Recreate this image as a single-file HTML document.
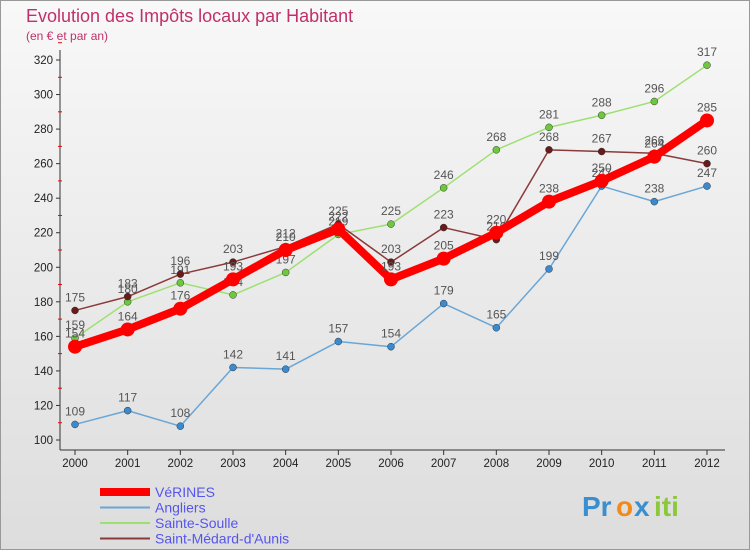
<!DOCTYPE html>
<html><head><meta charset="utf-8"><style>
body{margin:0;width:750px;height:550px;overflow:hidden;font-family:"Liberation Sans",sans-serif}
</style></head><body>
<svg id="c" width="750" height="550" xmlns="http://www.w3.org/2000/svg">
<defs><linearGradient id="bg" x1="0" y1="0" x2="0" y2="1"><stop offset="0" stop-color="#f8f8f8"/><stop offset="1" stop-color="#dddddd"/></linearGradient></defs>
<rect x="0.5" y="0.5" width="749" height="549" fill="url(#bg)" stroke="#999"/>
<text x="26" y="22" font-size="18" fill="#c0306a">Evolution des Impôts locaux par Habitant</text>
<text x="26" y="40" font-size="12" fill="#c0306a">(en € et par an)</text>
<g id="axes"></g><g id="series"></g><g id="legend"></g>
<g font-size="28" font-weight="bold">
<text x="582" y="516" fill="#3a8fd0">Pr</text><text x="616" y="516" fill="#f08a1c">o</text><text x="634" y="516" fill="#3a8fd0">x</text><text x="654" y="516" fill="#8cc83c">iti</text>
</g>
</svg>
<script>
const years=[2000,2001,2002,2003,2004,2005,2006,2007,2008,2009,2010,2011,2012];
const yTicks=[100,120,140,160,180,200,220,240,260,280,300,320];
const verines=[154,164,176,193,210,222,193,205,220,238,250,264,285];
const angliers=[109,117,108,142,141,157,154,179,165,199,247,238,247];
const sainteSoulle=[159,180,191,184,197,219,225,246,268,281,288,296,317];
const saintMedard=[175,183,196,203,212,225,203,223,216,268,267,266,260];
const NS="http://www.w3.org/2000/svg";
const X=i=>75+i*(632/12), Y=v=>440-(v-100)*(380/220);
function mk(t,a,p){const e=document.createElementNS(NS,t);for(const k in a)e.setAttribute(k,a[k]);p.appendChild(e);return e;}
const ax=document.getElementById('axes');
let l=mk('line',{x1:60,y1:50,x2:60,y2:450,stroke:'#333'},ax);

l=mk('line',{x1:60,y1:450,x2:725,y2:450,stroke:'#333'},ax);

yTicks.forEach(v=>{
mk('line',{x1:56,y1:Y(v),x2:60,y2:Y(v),stroke:'#333'},ax);
mk('line',{x1:58,y1:Y(v+10),x2:62,y2:Y(v+10),stroke:'#e00'},ax);
const t=mk('text',{x:53,y:Y(v)+4,'font-size':11.5,'text-anchor':'end',fill:'#222'},ax);t.textContent=v;
});
years.forEach((y,i)=>{mk('line',{x1:X(i),y1:450,x2:X(i),y2:455,stroke:'#333'},ax);
const t=mk('text',{x:X(i),y:467,'font-size':11.5,'text-anchor':'middle',fill:'#222'},ax);t.textContent=y;
});
const S=document.getElementById('series');
const defs=[[angliers,'#6aa6d6','#3a8ad0',1.5,3.5,'angliers'],[sainteSoulle,'#9ee070','#6cc83c',1.5,3.5,'sainte-soulle'],[saintMedard,'#8a3a3a','#6a1a1a',1.5,3.5,'saint-medard'],[verines,'#ff0000','#ff0000',8,7,'verines']];
defs.forEach(([d,c,mc,w,r,n])=>{const g=mk('g',{},S);
const p=mk('polyline',{points:d.map((v,i)=>X(i)+','+Y(v)).join(' '),fill:'none',stroke:c,'stroke-width':w,'stroke-linejoin':'round'},g);

d.forEach((v,i)=>{const m=mk('circle',{cx:X(i),cy:Y(v),r:r,fill:mc,stroke:'#333','stroke-width':n=='verines'?0:0.5},g);

const t=mk('text',{x:X(i),y:Y(v)-9,'font-size':12,'text-anchor':'middle',fill:'#555'},g);t.textContent=v;
});});
const L=document.getElementById('legend');
[['VéRINES','#ff0000',8],['Angliers','#6aa6d6',2],['Sainte-Soulle','#9ee070',2],['Saint-Médard-d\'Aunis','#8a3a3a',2]].forEach(([n,c,w],i)=>{
const y=492+i*15.5;const g=mk('g',{},L);
mk('line',{x1:100,y1:y,x2:150,y2:y,stroke:c,'stroke-width':w},g);
const t=mk('text',{x:155,y:y+5,'font-size':14,fill:'#5555ee'},g);t.textContent=n;});
</script>
</body></html>
